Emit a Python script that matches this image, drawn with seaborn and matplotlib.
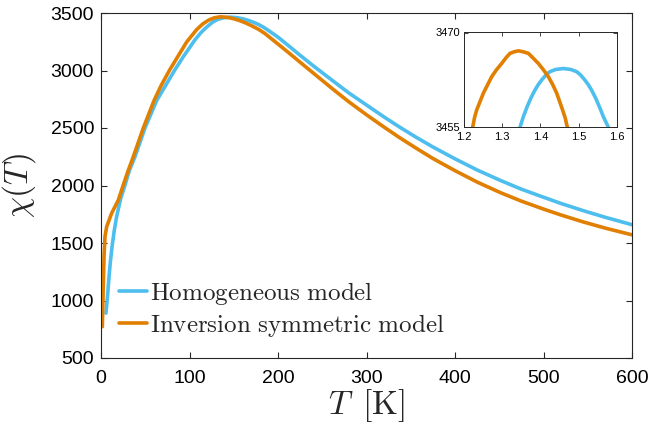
import numpy as np
import pandas as pd
import matplotlib
matplotlib.use("Agg")
import matplotlib.pyplot as plt
import seaborn as sns

# ---- data ----
T_hom = [5.6, 7.5, 9, 10.5, 12.5, 15, 17.7, 22, 27, 32, 38.4, 49.7, 63, 73, 83, 93, 106, 113, 119, 126,
         132, 139, 146, 153, 160, 166, 172, 178, 185, 192, 200, 212, 224.5, 240, 262, 280, 300, 320,
         338, 356, 375, 400, 425, 451, 475, 500, 520, 545, 570, 600]
chi_hom = [890, 1050, 1200, 1330, 1470, 1610, 1730, 1880, 2000, 2130, 2250, 2500, 2740, 2870, 3000,
           3120, 3265, 3330, 3375, 3420, 3445, 3459, 3464, 3460, 3450, 3437, 3420, 3400, 3370, 3333,
           3290, 3215, 3135, 3040, 2910, 2805, 2700, 2595, 2505, 2420, 2335, 2232, 2135, 2045, 1968,
           1898, 1843, 1781, 1723, 1659]

T_inv = [1.5, 2.5, 3.5, 4.5, 6.4, 12, 19.6, 25, 30.5, 36.5, 47.8, 60, 68, 77.6, 85.5, 97, 108, 115,
         122, 128, 134.5, 140, 145, 150, 157, 163, 170, 178, 185, 200, 212, 224.5, 240, 262, 280, 300,
         320, 338, 356, 375, 400, 425, 451, 475, 500, 520, 545, 570, 600]
chi_inv = [772, 1100, 1400, 1555, 1642, 1758, 1874, 2000, 2125, 2250, 2500, 2740, 2870, 3005, 3105,
           3250, 3355, 3405, 3440, 3458, 3467, 3464, 3459, 3450, 3433, 3415, 3390, 3358, 3323, 3230,
           3155, 3075, 2977, 2838, 2728, 2615, 2507, 2413, 2325, 2235, 2129, 2030, 1939, 1864, 1795,
           1743, 1683, 1629, 1571]

# inset (zoom of the maxima, T in units of 100 K)
Ti_hom = [1.3467, 1.355, 1.365, 1.375, 1.385, 1.395, 1.405, 1.415, 1.425, 1.44, 1.4603,
          1.48, 1.495, 1.505, 1.515, 1.525, 1.535, 1.545, 1.555, 1.565, 1.5782]
ci_hom = [3455, 3456.6, 3458.2, 3459.6, 3460.8, 3461.8, 3462.6, 3463.3, 3463.8, 3464.15, 3464.3,
          3464.15, 3463.8, 3463.3, 3462.6, 3461.8, 3460.8, 3459.6, 3458.2, 3456.7, 3455]
Ti_inv = [1.2227, 1.2275, 1.233, 1.2507, 1.2725, 1.285, 1.2987, 1.31, 1.3205, 1.3315, 1.3424, 1.355,
          1.3686, 1.382, 1.3948, 1.408, 1.421, 1.432, 1.4428, 1.451, 1.4585, 1.465, 1.4707]
ci_inv = [3455, 3456.5, 3457.7, 3460.4, 3463.0, 3464.1, 3465.1, 3466.0, 3466.7, 3466.95, 3467.1, 3466.95,
          3466.7, 3465.9, 3465.1, 3464.1, 3463.0, 3461.8, 3460.4, 3459.0, 3457.7, 3456.5, 3455]

labels = ["Homogeneous model", "Inversion symmetric model"]
x_ticks = [0, 100, 200, 300, 400, 500, 600]
y_ticks = [500, 1000, 1500, 2000, 2500, 3000, 3500]
xi_ticks = [1.2, 1.3, 1.4, 1.5, 1.6]
xi_labels = ["1.2", "1.3", "1.4", "1.5", "1.6"]
yi_ticks = [3455, 3470]

c_hom = "#4DBEEE"
c_inv = "#E07F00"

sns.set_theme(style="ticks")
plt.rcParams["font.family"] = ["Liberation Sans", "DejaVu Sans"]
plt.rcParams["mathtext.fontset"] = "cm"

fig = plt.figure(figsize=(6.51, 4.29), dpi=100)
ax = fig.add_axes([101/651, 1-358/429, (632-101)/651, (358-13)/429])

def tex(s):
    return r"$\mathrm{" + s.replace(" ", r"\ ") + "}$"

sns.lineplot(x=T_hom, y=chi_hom, ax=ax, color=c_hom, lw=2.6, sort=False,
             label=tex(labels[0]))
sns.lineplot(x=T_inv, y=chi_inv, ax=ax, color=c_inv, lw=2.6, sort=False,
             label=tex(labels[1]))

ax.set_xlim(0, 600)
ax.set_ylim(500, 3500)
ax.set_xticks(x_ticks)
ax.set_yticks(y_ticks)
ax.tick_params(direction="in", top=True, right=True, length=4, width=0.8,
               labelsize=14, colors="#262626", labelcolor="black")
ax.tick_params(axis="y", pad=5)
ax.tick_params(axis="x", pad=8.5)
for s in ax.spines.values():
    s.set_visible(True)
    s.set_linewidth(0.8)
    s.set_color("#262626")
ax.set_xlabel(r"$T\ \,[\mathrm{K}]$", fontsize=24, labelpad=0)
ax.set_ylabel(r"$\chi(T)$", fontsize=24, labelpad=9)

leg = ax.legend(loc="lower left", bbox_to_anchor=(0.0, 0.005), frameon=False,
                fontsize=18, handlelength=1.15, handletextpad=0.1,
                labelspacing=0.2, borderaxespad=0.3)

# inset
ai = fig.add_axes([464/651, 1-127.3/429, (616.7-464)/651, (127.3-32.5)/429])
sns.lineplot(x=Ti_hom, y=ci_hom, ax=ai, color=c_hom, lw=2.6, sort=False)
sns.lineplot(x=Ti_inv, y=ci_inv, ax=ai, color=c_inv, lw=2.6, sort=False)
ai.set_xlim(1.2, 1.6)
ai.set_ylim(3455, 3470)
ai.set_xticks(xi_ticks)
ai.set_xticklabels(xi_labels)
ai.set_yticks(yi_ticks)
ai.tick_params(direction="in", top=True, right=True, length=3, width=0.6,
               labelsize=8, colors="#262626", labelcolor="black")
ai.tick_params(axis="x", pad=3.5)
ai.tick_params(axis="y", pad=2.5)
for s in ai.spines.values():
    s.set_visible(True)
    s.set_linewidth(0.7)
    s.set_color("#262626")
ai.set_xlabel("")
ai.set_ylabel("")

fig.savefig("out.png", dpi=100)
